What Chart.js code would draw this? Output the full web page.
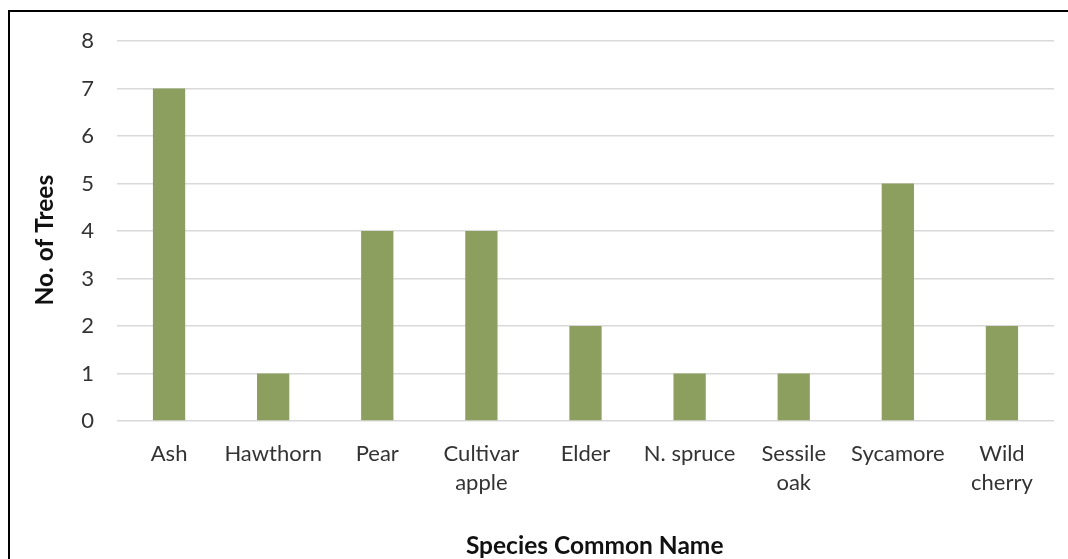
<!DOCTYPE html>
<html>
<head>
<meta charset="utf-8">
<script src="https://cdn.jsdelivr.net/npm/chart.js@4"></script>
<style>
    html, body { margin: 0; padding: 0; background: #fff; }
    #wrap { position: relative; width: 1068px; height: 559px; overflow: hidden; }
    #frame { position: absolute; left: 8px; top: 10px; right: -10px; bottom: -10px;
             border-top: 2px solid #000; border-left: 2px solid #000; pointer-events: none; }
    canvas { position: absolute; left: 0; top: 0; }
</style>
</head>
<body>
<div id="wrap">
    <canvas id="treeChart" width="1068" height="559"></canvas>
    <div id="frame"></div>
</div>
<script>
// Species and tree counts
const species = ['Ash', 'Hawthorn', 'Pear', ['Cultivar', 'apple'], 'Elder', 'N. spruce', ['Sessile', 'oak'], 'Sycamore', ['Wild', 'cherry']];
const treeCounts = [7, 1, 4, 4, 2, 1, 1, 5, 2];
const yTicks = [0, 1, 2, 3, 4, 5, 6, 7, 8];

const barColor = '#8C9F5F';
const gridColor = '#D9D9D9';
const tickFont = { family: 'Lato', size: 22, lineHeight: 1.32 };
const titleFont = { family: 'Lato', size: 24.5, weight: 'bold' };

document.addEventListener('DOMContentLoaded', () => {
    const canvas = document.getElementById('treeChart');

    new Chart(canvas, {
        type: 'bar',
        data: {
            labels: species,
            datasets: [{
                label: 'No. of Trees',
                data: treeCounts,
                backgroundColor: barColor,
                borderWidth: 0,
                categoryPercentage: 1,
                barPercentage: 0.31
            }]
        },
        options: {
            responsive: false,
            animation: false,
            devicePixelRatio: 1,
            layout: { padding: { top: 41, right: 14, bottom: 0, left: 0 } },
            scales: {
                y: {
                    min: yTicks[0],
                    max: yTicks[yTicks.length - 1],
                    afterFit: (scale) => { scale.width = 117; },
                    afterBuildTicks: (scale) => { scale.ticks = yTicks.map(v => ({ value: v })); },
                    border: { display: false },
                    grid: { color: gridColor, lineWidth: 1.5, drawTicks: false },
                    ticks: { padding: 23, color: '#333', font: tickFont },
                    title: {
                        display: true,
                        // trailing space nudges the title down like the original
                        text: 'No. of Trees\u2003',
                        color: '#111',
                        font: titleFont,
                        padding: { top: 30, bottom: 0 }
                    }
                },
                x: {
                    afterFit: (scale) => { scale.height = 138; },
                    border: { display: false },
                    grid: { display: false, drawTicks: false },
                    ticks: { padding: 18, color: '#333', font: tickFont, maxRotation: 0, autoSkip: false },
                    title: {
                        display: true,
                        text: '\u2003Species Common Name',
                        color: '#111',
                        font: titleFont,
                        padding: { top: 0, bottom: -2 }
                    }
                }
            },
            plugins: {
                legend: { display: false },
                tooltip: { enabled: false }
            }
        }
    });
});
</script>
</body>
</html>
